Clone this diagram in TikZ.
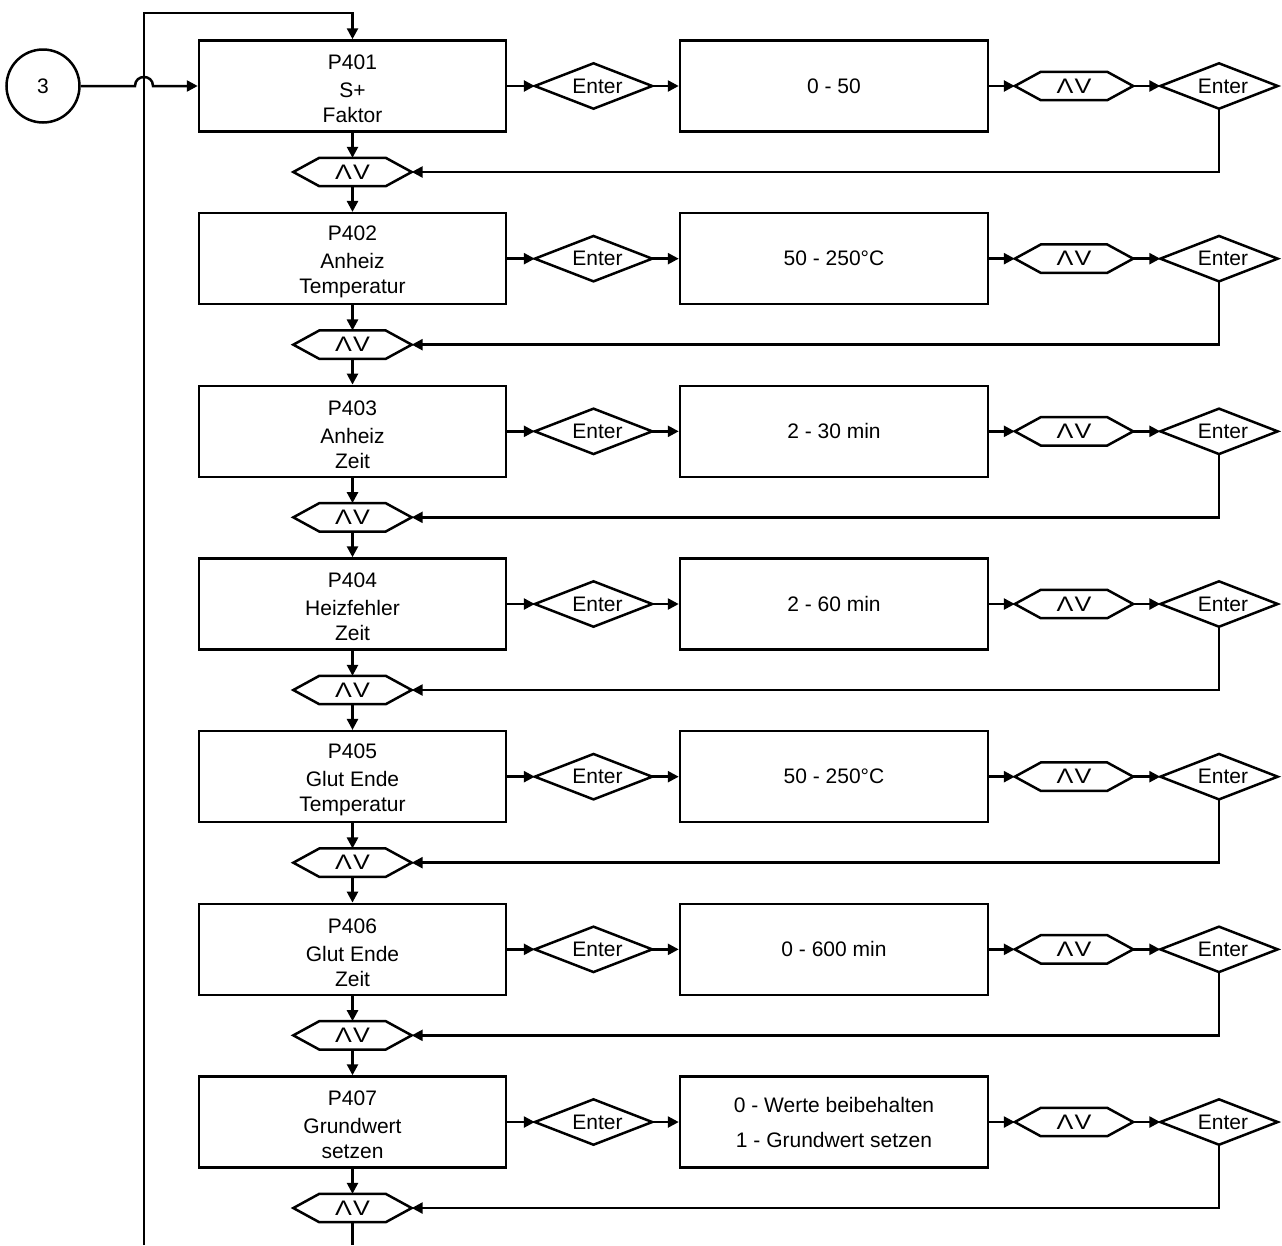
\documentclass[tikz,border=0pt]{standalone}
\usepackage{fontspec}
\setmainfont{Liberation Sans}
\usetikzlibrary{arrows.meta}
\newcommand{\updown}{\scalebox{1.2}[1]{Λ\hspace{1pt}V}}
\newcommand{\entertxt}{\hspace*{8pt}Enter}
\begin{document}
\begin{tikzpicture}[x=1pt,y=-1pt,
  lw/.style={line width=2.5pt},
  every node/.style={font=\fontsize{21}{26}\selectfont, inner sep=0pt},
  boxnode/.style={draw, lw, minimum width=307pt, minimum height=91pt, align=center},
  valnode/.style={draw, lw, minimum width=308pt, minimum height=91pt, align=center},
  hexnode/.style={minimum width=118pt, minimum height=28pt},
  dianode/.style={minimum width=117pt, minimum height=45pt},
  conn/.style={lw, -{Triangle[length=11pt,width=11pt]}},
  outl/.style={lw, line join=miter},
]
\useasboundingbox (0,0) rectangle (1282,1245);

\foreach \k/\pa/\pb/\pc/\val in {
  0/P401/S+/Faktor/{0 - 50},
  1/P402/Anheiz/Temperatur/{50 - 250°C},
  2/P403/Anheiz/Zeit/{2 - 30 min},
  3/P404/Heizfehler/Zeit/{2 - 60 min},
  4/P405/Glut Ende/Temperatur/{50 - 250°C},
  5/P406/Glut Ende/Zeit/{0 - 600 min},
  6/P407/Grundwert/setzen/{0 - Werte beibehalten\\[9pt]1 - Grundwert setzen}} {
  \pgfmathsetmacro\yy{86+172.67*\k}
  \pgfmathsetmacro\yd{172+172.67*\k}
  \node[boxnode] (B\k) at (352.5,\yy) {\rule{0pt}{21pt}\pa\\[2pt]\pb\\[-1pt]\pc};
  \node[dianode] (E\k) at (593.5,\yy) {\entertxt};
  \node[valnode] (V\k) at (834,\yy) {\val};
  \node[hexnode] (U\k) at (1074,\yy) {\updown};
  \node[dianode] (F\k) at (1219,\yy) {\entertxt};
  \node[hexnode] (D\k) at (352.5,\yd) {\updown};
}

% outlines of hexagons and diamonds
\foreach \k in {0,...,6} {
  \foreach \n in {U\k,D\k} {
    \draw[outl] (\n.west) -- ([xshift=26pt]\n.north west) -- ([xshift=-26pt]\n.north east)
      -- (\n.east) -- ([xshift=-26pt]\n.south east) -- ([xshift=26pt]\n.south west) -- cycle;
  }
  \foreach \n in {E\k,F\k} {
    \draw[outl] (\n.west) -- (\n.north) -- (\n.east) -- (\n.south) -- cycle;
  }
  \draw[conn] (B\k.east) -- (E\k.west);
  \draw[conn] (E\k.east) -- (V\k.west);
  \draw[conn] (V\k.east) -- (U\k.west);
  \draw[conn] (U\k.east) -- (F\k.west);
  \draw[conn] (F\k.south) |- (D\k.east);
  \draw[conn] (B\k.south) -- (D\k.north);
}
\foreach \k [evaluate=\k as \nx using int(\k+1)] in {0,...,5} {
  \draw[conn] (D\k.south) -- (B\nx.north);
}
\coordinate (end) at (352.5,1245);
\draw[lw] (D6.south) -- (end);

% entry circle with line hop
\node[draw, lw, circle, minimum size=73pt] (C) at (43,86) {3};
\coordinate (h1) at (135,86);
\coordinate (h2) at (153,86);
\draw[conn] (C.east) -- (h1) .. controls (135,74) and (153,74) .. (h2) -- (B0.west);

% return loop
\coordinate (lb) at (144,1245);
\coordinate (lt) at (144,13);
\draw[conn, line join=miter] (lb) -- (lt) -| (B0.north);
\end{tikzpicture}
\end{document}
